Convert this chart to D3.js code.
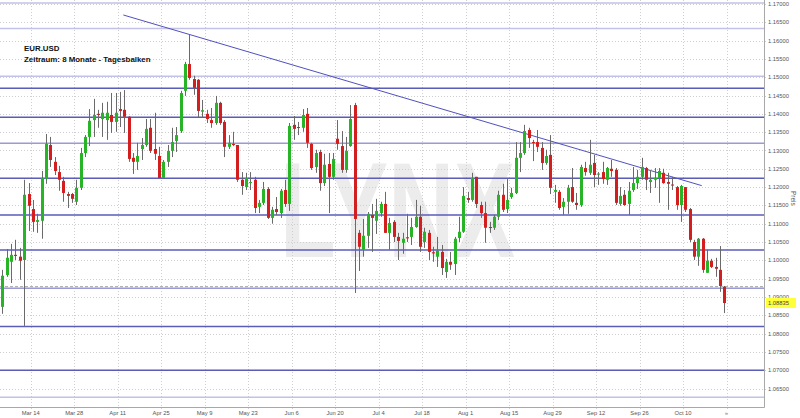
<!DOCTYPE html>
<html>
<head>
<meta charset="utf-8">
<script src="https://cdn.jsdelivr.net/npm/d3@7/dist/d3.min.js"></script>
<style>
  body { margin: 0; background: #fff; }
  svg { display: block; font-family: "Liberation Sans", Arial, sans-serif; }
</style>
</head>
<body>
<div id="chart"></div>
<script>
// EUR.USD daily bars, trading day index 0 = Mar 14 (2016), first bar = day -7
var firstDay = -7;

var opens = [
  1.0873,1.0960,1.0996,1.1015,1.1010,1.1001,1.1181,1.1140,1.1105,1.1108,
  1.1222,1.1315,1.1269,1.1241,1.1217,1.1181,1.1181,1.1160,1.1198,1.1293,
  1.1337,1.1383,1.1400,1.1386,1.1383,1.1397,1.1378,1.1413,1.1411,1.1392,
  1.1280,1.1269,1.1304,1.1315,1.1362,1.1304,1.1285,1.1225,1.1269,1.1299,
  1.1326,1.1353,1.1463,1.1536,1.1495,1.1493,1.1406,1.1400,1.1383,1.1375,
  1.1430,1.1378,1.1310,1.1318,1.1315,1.1220,1.1200,1.1211,1.1220,1.1146,
  1.1157,1.1195,1.1116,1.1140,1.1129,1.1192,1.1154,1.1370,1.1364,1.1362,
  1.1400,1.1318,1.1255,1.1296,1.1211,1.1263,1.1228,1.1332,1.1312,1.1247,
  1.1312,1.1424,1.1075,1.1029,1.1067,1.1124,1.1108,1.1129,1.1154,1.1075,
  1.1105,1.1064,1.1048,1.1063,1.1064,1.1091,1.1119,1.1050,1.1075,1.1022,
  1.1010,1.1023,1.0968,1.0996,1.0990,1.1061,1.1078,1.1170,1.1165,1.1228,
  1.1151,1.1129,1.1091,1.1089,1.1119,1.1179,1.1140,1.1173,1.1184,1.1280,
  1.1293,1.1356,1.1323,1.1323,1.1307,1.1266,1.1288,1.1187,1.1187,1.1146,
  1.1160,1.1200,1.1157,1.1151,1.1252,1.1239,1.1266,1.1234,1.1241,1.1220,
  1.1250,1.1247,1.1154,1.1179,1.1154,1.1192,1.1211,1.1228,1.1252,1.1214,
  1.1220,1.1225,1.1239,1.1214,1.1207,1.1200,1.1151,1.1200,1.1140,1.1050,
  1.1010,1.1059,1.0966,1.0999,1.0982,1.0974,1.0928
];
var highs = [
  1.0974,1.1031,1.1045,1.1056,1.1034,1.1220,1.1211,1.1165,1.1127,1.1244,
  1.1345,1.1337,1.1282,1.1258,1.1228,1.1187,1.1184,1.1220,1.1307,1.1342,
  1.1413,1.1441,1.1411,1.1430,1.1433,1.1457,1.1457,1.1460,1.1465,1.1394,
  1.1293,1.1321,1.1334,1.1386,1.1386,1.1403,1.1310,1.1274,1.1315,1.1362,
  1.1364,1.1463,1.1542,1.1618,1.1504,1.1495,1.1438,1.1411,1.1416,1.1449,
  1.1433,1.1383,1.1342,1.1351,1.1315,1.1241,1.1239,1.1241,1.1228,1.1165,
  1.1214,1.1200,1.1146,1.1173,1.1195,1.1220,1.1375,1.1394,1.1378,1.1413,
  1.1416,1.1321,1.1302,1.1302,1.1291,1.1293,1.1293,1.1383,1.1353,1.1337,
  1.1424,1.1430,1.1083,1.1113,1.1132,1.1154,1.1168,1.1160,1.1187,1.1116,
  1.1110,1.1075,1.1075,1.1127,1.1116,1.1165,1.1149,1.1089,1.1083,1.1037,
  1.1064,1.1042,1.1004,1.1023,1.1064,1.1119,1.1200,1.1187,1.1239,1.1228,
  1.1160,1.1160,1.1105,1.1124,1.1190,1.1209,1.1225,1.1198,1.1323,1.1323,
  1.1370,1.1362,1.1329,1.1356,1.1323,1.1302,1.1342,1.1206,1.1192,1.1170,
  1.1206,1.1252,1.1184,1.1261,1.1269,1.1329,1.1288,1.1241,1.1269,1.1255,
  1.1274,1.1252,1.1200,1.1192,1.1214,1.1255,1.1247,1.1280,1.1255,1.1247,
  1.1252,1.1252,1.1250,1.1239,1.1228,1.1203,1.1206,1.1200,1.1143,1.1056,
  1.1061,1.1061,1.1029,1.1004,1.1007,1.1039,1.0930
];
var lows = [
  1.0854,1.0955,1.0938,1.1001,1.0947,1.0821,1.1080,1.1078,1.1075,1.1059,
  1.1209,1.1255,1.1233,1.1190,1.1160,1.1143,1.1157,1.1151,1.1192,1.1282,
  1.1312,1.1337,1.1362,1.1337,1.1329,1.1348,1.1351,1.1364,1.1348,1.1269,
  1.1236,1.1247,1.1274,1.1310,1.1293,1.1274,1.1222,1.1222,1.1255,1.1282,
  1.1296,1.1348,1.1449,1.1493,1.1452,1.1389,1.1389,1.1375,1.1362,1.1370,
  1.1370,1.1282,1.1304,1.1312,1.1214,1.1179,1.1192,1.1192,1.1129,1.1129,
  1.1151,1.1113,1.1100,1.1124,1.1116,1.1146,1.1135,1.1329,1.1342,1.1351,
  1.1307,1.1247,1.1239,1.1190,1.1203,1.1129,1.1220,1.1302,1.1239,1.1239,
  1.1310,1.0911,1.0971,1.1010,1.1034,1.1023,1.1072,1.1119,1.1075,1.1029,
  1.1050,1.1001,1.1018,1.1050,1.1042,1.1089,1.1023,1.1034,1.1001,1.0996,
  1.0982,1.0960,1.0952,1.0974,1.0960,1.1050,1.1075,1.1157,1.1160,1.1143,
  1.1116,1.1048,1.1075,1.1083,1.1110,1.1132,1.1129,1.1168,1.1181,1.1241,
  1.1288,1.1307,1.1271,1.1296,1.1247,1.1261,1.1181,1.1157,1.1138,1.1124,
  1.1127,1.1157,1.1138,1.1146,1.1231,1.1233,1.1200,1.1206,1.1209,1.1206,
  1.1228,1.1151,1.1149,1.1149,1.1124,1.1187,1.1195,1.1220,1.1192,1.1184,
  1.1198,1.1157,1.1209,1.1138,1.1192,1.1138,1.1105,1.1132,1.1050,1.1001,
  1.0985,1.0966,1.0966,1.0979,1.0955,1.0914,1.0856
];
var closes = [
  1.0958,1.1007,1.1015,1.1012,1.0999,1.1179,1.1149,1.1105,1.1110,1.1225,
  1.1318,1.1274,1.1244,1.1220,1.1184,1.1176,1.1168,1.1198,1.1293,1.1337,
  1.1381,1.1397,1.1397,1.1403,1.1403,1.1378,1.1403,1.1408,1.1392,1.1277,
  1.1269,1.1285,1.1315,1.1359,1.1299,1.1291,1.1225,1.1269,1.1299,1.1323,
  1.1342,1.1457,1.1536,1.1498,1.1471,1.1408,1.1410,1.1386,1.1375,1.1430,
  1.1375,1.1310,1.1321,1.1315,1.1220,1.1203,1.1225,1.1214,1.1143,1.1157,
  1.1195,1.1116,1.1138,1.1132,1.1190,1.1154,1.1367,1.1359,1.1362,1.1397,
  1.1321,1.1252,1.1293,1.1211,1.1261,1.1228,1.1277,1.1318,1.1247,1.1299,
  1.1386,1.1113,1.1037,1.1067,1.1127,1.1116,1.1135,1.1154,1.1075,1.1102,
  1.1064,1.1053,1.1059,1.1060,1.1091,1.1119,1.1037,1.1078,1.1023,1.1019,
  1.1026,1.0979,1.0996,1.0988,1.1059,1.1078,1.1176,1.1165,1.1225,1.1154,
  1.1129,1.1089,1.1089,1.1119,1.1179,1.1138,1.1165,1.1184,1.1280,1.1293,
  1.1353,1.1334,1.1321,1.1310,1.1266,1.1285,1.1198,1.1192,1.1143,1.1160,
  1.1198,1.1160,1.1151,1.1255,1.1241,1.1261,1.1233,1.1237,1.1222,1.1252,
  1.1244,1.1157,1.1176,1.1151,1.1190,1.1211,1.1228,1.1255,1.1220,1.1220,
  1.1225,1.1244,1.1211,1.1209,1.1205,1.1151,1.1203,1.1138,1.1056,1.1010,
  1.1059,1.0974,1.0999,1.0982,1.0977,1.0930,1.08835
];

// x axis: every second Monday
var tickDays = [0, 10, 20, 30, 40, 50, 60, 70, 80, 90, 100, 110, 120, 130, 140, 150];
var tickLabels = ['Mar 14', 'Mar 28', 'Apr 11', 'Apr 25', 'May 9', 'May 23', 'Jun 6', 'Jun 20',
                  'Jul 4', 'Jul 18', 'Aug 1', 'Aug 15', 'Aug 29', 'Sep 12', 'Sep 26', 'Oct 10'];
var nextDay = 160;

// horizontal support / resistance lines
var strongLevels = [1.1470, 1.1391, 1.1224, 1.1124, 1.1028, 1.0819, 1.0700];
var mediumLevels = [1.1320, 1.0924];
var lightLevels = [1.1703, 1.1633, 1.1503, 1.0626];
var dashedLevel = 1.0928;

// down trend line
var trendDays = [21.3, 154.3];
var trendPrices = [1.1670, 1.1204];

var lastPrice = 1.08835;

var width = 800, height = 418;
var plotW = 764, plotH = 407;

var x = d3.scaleLinear().domain([-7.06, 168.62]).range([0, plotW]);
var y = d3.scaleLinear().domain([1.05995, 1.17109]).range([plotH, 0]);
var yTicks = d3.range(0, 22).map(function(k) { return 1.065 + k * 0.005; });

var svg = d3.select('#chart').append('svg')
    .attr('width', width)
    .attr('height', height);

svg.append('rect').attr('width', width).attr('height', height).attr('fill', '#fff');

// watermark
svg.append('text')
    .attr('x', 280)
    .attr('y', 257)
    .attr('textLength', 235)
    .attr('lengthAdjust', 'spacingAndGlyphs')
    .style('font-size', '136px')
    .style('font-weight', 'bold')
    .attr('fill', '#ececec')
    .text('LYNX');

// grid
svg.append('g').selectAll('line').data(yTicks).enter().append('line')
    .attr('x1', 0).attr('x2', plotW + 3)
    .attr('y1', function(d) { return Math.round(y(d)) + 0.5; })
    .attr('y2', function(d) { return Math.round(y(d)) + 0.5; })
    .attr('stroke', '#cfcfcf')
    .attr('stroke-dasharray', '1,2');

svg.append('g').selectAll('line').data(tickDays.concat([nextDay])).enter().append('line')
    .attr('x1', function(d) { return Math.round(x(d)) + 0.5; })
    .attr('x2', function(d) { return Math.round(x(d)) + 0.5; })
    .attr('y1', 0).attr('y2', plotH + 3)
    .attr('stroke', '#cfcfcf')
    .attr('stroke-dasharray', '1,2');

// levels
function drawLevels(levels, color, w) {
  svg.append('g').selectAll('line').data(levels).enter().append('line')
      .attr('x1', 0).attr('x2', plotW)
      .attr('y1', function(d) { return y(d); })
      .attr('y2', function(d) { return y(d); })
      .attr('stroke', color)
      .attr('stroke-width', w);
}
drawLevels(lightLevels, '#c2c2e8', 1.5);
drawLevels(mediumLevels, '#9a9ad6', 1.5);
drawLevels(strongLevels, '#5b5bb8', 1.5);

svg.append('line')
    .attr('x1', 0).attr('x2', plotW)
    .attr('y1', y(dashedLevel)).attr('y2', y(dashedLevel))
    .attr('stroke', '#a0a0a0')
    .attr('stroke-dasharray', '3,2');

// trend line
svg.append('line')
    .attr('x1', x(trendDays[0])).attr('y1', y(trendPrices[0]))
    .attr('x2', x(trendDays[1])).attr('y2', y(trendPrices[1]))
    .attr('stroke', '#5050c0')
    .attr('stroke-width', 1);

// candles
var bars = opens.map(function(o, i) {
  return { day: firstDay + i, o: o, h: highs[i], l: lows[i], c: closes[i] };
});

var candle = svg.append('g').selectAll('g').data(bars).enter().append('g');

candle.append('line')
    .attr('x1', function(d) { return Math.round(x(d.day + 0.5)) + 0.5; })
    .attr('x2', function(d) { return Math.round(x(d.day + 0.5)) + 0.5; })
    .attr('y1', function(d) { return y(d.h); })
    .attr('y2', function(d) { return y(d.l); })
    .attr('stroke', '#6a6a6a');

candle.append('rect')
    .attr('x', function(d) { return Math.round(x(d.day + 0.5)) - 1; })
    .attr('width', 3)
    .attr('y', function(d) { return y(Math.max(d.o, d.c)); })
    .attr('height', function(d) { return Math.max(1, Math.abs(y(d.o) - y(d.c))); })
    .attr('fill', function(d) { return d.c >= d.o ? '#27b427' : '#d21e1e'; });

// axes frame
svg.append('line')
    .attr('x1', plotW + 0.5).attr('x2', plotW + 0.5)
    .attr('y1', 0).attr('y2', plotH + 0.5)
    .attr('stroke', '#a8a8a8');
svg.append('line')
    .attr('x1', 0).attr('x2', plotW + 0.5)
    .attr('y1', plotH + 0.5).attr('y2', plotH + 0.5)
    .attr('stroke', '#a8a8a8');

// y labels
svg.append('g').selectAll('text').data(yTicks).enter().append('text')
    .attr('x', plotW + 4)
    .attr('y', function(d) { return y(d); })
    .attr('dy', '0.35em')
    .style('font-size', '5.8px')
    .attr('fill', '#555')
    .text(d3.format('.5f'));

// last price tag
svg.append('rect')
    .attr('x', plotW + 2)
    .attr('y', y(lastPrice) - 5)
    .attr('width', 30)
    .attr('height', 10)
    .attr('fill', '#ffff3a');
svg.append('text')
    .attr('x', plotW + 4)
    .attr('y', y(lastPrice))
    .attr('dy', '0.35em')
    .style('font-size', '5.8px')
    .attr('fill', '#444')
    .text(d3.format('.5f')(lastPrice));

svg.append('text')
    .attr('transform', 'translate(791,191) rotate(90)')
    .style('font-size', '6.5px')
    .attr('fill', '#555')
    .text('Preis');

// x labels
svg.append('g').selectAll('text').data(tickDays).enter().append('text')
    .attr('x', function(d) { return x(d); })
    .attr('y', 415)
    .attr('text-anchor', 'middle')
    .style('font-size', '5.8px')
    .attr('fill', '#555')
    .text(function(d, i) { return tickLabels[i]; });

svg.append('text')
    .attr('x', x(nextDay))
    .attr('y', 415)
    .attr('text-anchor', 'middle')
    .style('font-size', '6px')
    .attr('fill', '#777')
    .text('\u00bb');

// title
svg.append('text')
    .attr('x', 24).attr('y', 51)
    .style('font-size', '7.9px')
    .style('font-weight', 'bold')
    .attr('fill', '#111')
    .text('EUR.USD');
svg.append('text')
    .attr('x', 24).attr('y', 61.5)
    .style('font-size', '7.9px')
    .style('font-weight', 'bold')
    .attr('fill', '#111')
    .text('Zeitraum: 8 Monate - Tagesbalken');
</script>
</body>
</html>
